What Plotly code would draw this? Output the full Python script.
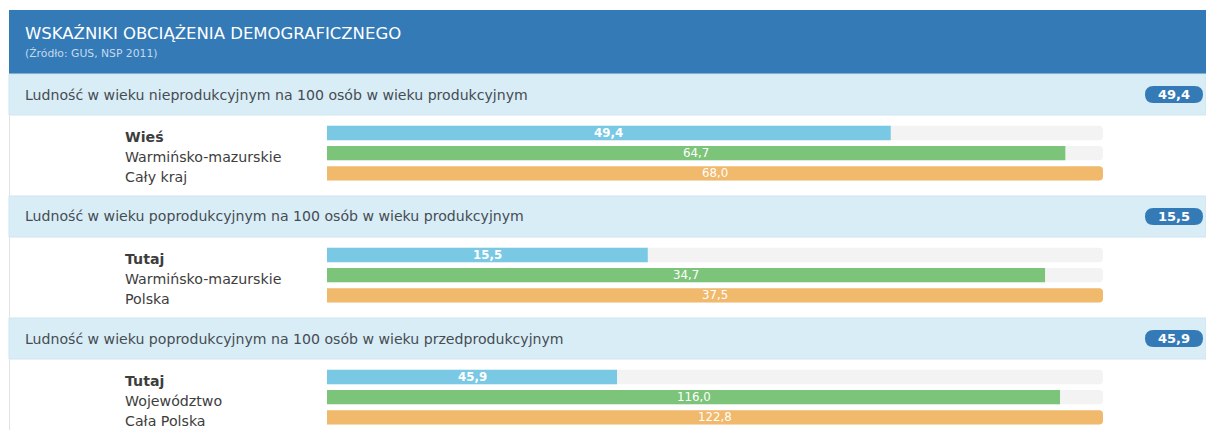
import plotly.graph_objects as go

W, H = 1206, 430

title = "WSKAŹNIKI OBCIĄŻENIA DEMOGRAFICZNEGO"
subtitle = "(Źródło: GUS, NSP 2011)"

section_titles = [
    "Ludność w wieku nieprodukcyjnym na 100 osób w wieku produkcyjnym",
    "Ludność w wieku poprodukcyjnym na 100 osób w wieku produkcyjnym",
    "Ludność w wieku poprodukcyjnym na 100 osób w wieku przedprodukcyjnym",
]
labels_1 = ["Wieś", "Warmińsko-mazurskie", "Cały kraj"]
values_1 = [49.4, 64.7, 68.0]
labels_2 = ["Tutaj", "Warmińsko-mazurskie", "Polska"]
values_2 = [15.5, 34.7, 37.5]
labels_3 = ["Tutaj", "Województwo", "Cała Polska"]
values_3 = [45.9, 116.0, 122.8]

groups = [(labels_1, values_1), (labels_2, values_2), (labels_3, values_3)]

BAR_COLORS = ["#79c8e4", "#7cc47a", "#f1b96c"]
TRACK = "#f3f3f3"
HEADER_BLUE = "#337ab7"
BAND = "#d9edf7"
FONT = "DejaVu Sans"


def px(x):
    return x / W


def py(y):
    return 1 - y / H


def fmt(v):
    return f"{v:.1f}".replace(".", ",")


fig = go.Figure()
shapes = []
annotations = []

# header
shapes.append(dict(type="rect", xref="paper", yref="paper", x0=px(9), x1=px(1206),
                   y0=py(74), y1=py(10), fillcolor=HEADER_BLUE, line_width=0, layer="below"))
annotations.append(dict(xref="paper", yref="paper", x=px(23), y=py(33), text=title,
                        showarrow=False, xanchor="left", yanchor="middle",
                        font=dict(family=FONT, size=16.5, color="white")))
annotations.append(dict(xref="paper", yref="paper", x=px(23), y=py(54), text=subtitle,
                        showarrow=False, xanchor="left", yanchor="middle",
                        font=dict(family=FONT, size=10.8, color="#c4d9ee")))

tops = [74, 196, 318]
spacing = 20.2
x_left, x_right = 327, 1103

layout_axes = {}
for i, ((labs, vals), top) in enumerate(zip(groups, tops)):
    n = i + 1
    xa = "x" if n == 1 else f"x{n}"
    ya = "y" if n == 1 else f"y{n}"
    # band
    shapes.append(dict(type="rect", xref="paper", yref="paper", x0=px(9), x1=px(1206),
                       y0=py(top + 41), y1=py(top), fillcolor=BAND,
                       line=dict(color="#cfe5f1", width=1), layer="below"))
    # left border of content
    nxt = tops[i + 1] if i + 1 < len(tops) else H
    shapes.append(dict(type="line", xref="paper", yref="paper", x0=px(9.5), x1=px(9.5),
                       y0=py(nxt), y1=py(top + 41), line=dict(color="#e2e2e2", width=1),
                       layer="below"))
    annotations.append(dict(xref="paper", yref="paper", x=px(23), y=py(top + 20.5),
                            text=section_titles[i], showarrow=False, xanchor="left",
                            yanchor="middle",
                            font=dict(family=FONT, size=14.1, color="#454c52")))
    # badge (pill)
    bx0, bx1 = 1145, 1203
    bcy = top + 20.5
    bh = 17
    r = bh / 2
    X0, X1 = px(bx0), px(bx1)
    Y0, Y1 = py(bcy + bh / 2), py(bcy - bh / 2)
    rx, ry = r / W, r / H
    path = (f"M {X0+rx},{Y0} L {X1-rx},{Y0} Q {X1},{Y0} {X1},{Y0+ry} L {X1},{Y1-ry} "
            f"Q {X1},{Y1} {X1-rx},{Y1} L {X0+rx},{Y1} Q {X0},{Y1} {X0},{Y1-ry} "
            f"L {X0},{Y0+ry} Q {X0},{Y0} {X0+rx},{Y0} Z")
    shapes.append(dict(type="path", xref="paper", yref="paper", path=path,
                       fillcolor=HEADER_BLUE, line_width=0))
    annotations.append(dict(xref="paper", yref="paper", x=px((bx0 + bx1) / 2), y=py(bcy),
                            text=f"<b>{fmt(vals[0])}</b>", showarrow=False,
                            xanchor="center", yanchor="middle",
                            font=dict(family=FONT, size=13, color="white")))

    vmax = max(vals)
    c0 = top + 59
    d_top = c0 - spacing / 2
    d_bot = c0 + 2 * spacing + spacing / 2
    fig.add_trace(go.Bar(x=[vmax] * len(vals), y=labs, orientation="h", width=0.71,
                         marker=dict(color=TRACK, cornerradius=4, line_width=0),
                         xaxis=xa, yaxis=ya, hoverinfo="skip", showlegend=False))
    fig.add_trace(go.Bar(x=vals, y=labs, orientation="h", width=0.71,
                         marker=dict(color=BAR_COLORS, cornerradius=4, line_width=0),
                         xaxis=xa, yaxis=ya, hoverinfo="skip", showlegend=False))
    xkey = "xaxis" if n == 1 else f"xaxis{n}"
    ykey = "yaxis" if n == 1 else f"yaxis{n}"
    layout_axes[xkey] = dict(domain=[px(x_left), px(x_right)], range=[0, vmax],
                             anchor=ya, visible=False, fixedrange=True)
    layout_axes[ykey] = dict(domain=[py(d_bot), py(d_top)], anchor=xa, type="category",
                             categoryorder="array", categoryarray=labs,
                             range=[len(labs) - 0.5, -0.5], visible=False, fixedrange=True)
    for j, (lab, v) in enumerate(zip(labs, vals)):
        t = f"<b>{lab}</b>" if j == 0 else lab
        annotations.append(dict(xref="paper", yref=ya, x=px(123), y=lab, text=t,
                                showarrow=False, xanchor="left", yanchor="middle",
                                yshift=-4, font=dict(family=FONT, size=14.2, color="#3d3d3d")))
        vt = f"<b>{fmt(v)}</b>" if j == 0 else fmt(v)
        annotations.append(dict(xref=xa, yref=ya, x=v / 2, y=lab, text=vt,
                                showarrow=False, xanchor="center", yanchor="middle",
                                font=dict(family=FONT, size=11.8, color="white")))

fig.update_layout(
    width=W, height=H, margin=dict(l=0, r=0, t=0, b=0),
    paper_bgcolor="white", plot_bgcolor="rgba(0,0,0,0)",
    barmode="overlay", showlegend=False,
    shapes=shapes, annotations=annotations,
    font=dict(family=FONT),
    **layout_axes,
)

fig.write_html("out.html", config={"displayModeBar": False, "staticPlot": True},
               post_script="document.body.style.margin='0';document.body.style.padding='0';")
